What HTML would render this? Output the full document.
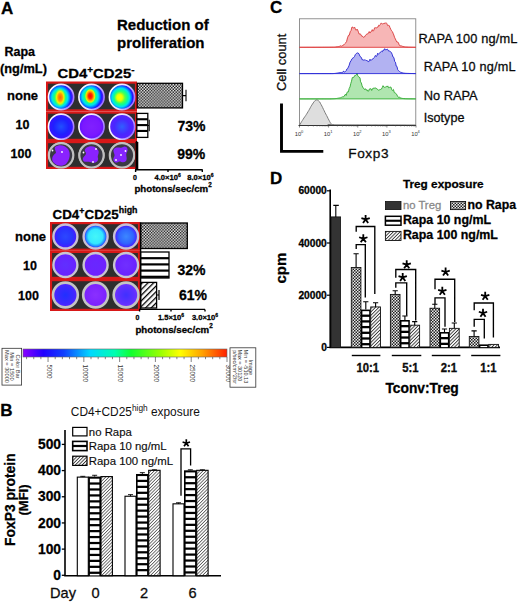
<!DOCTYPE html>
<html><head><meta charset="utf-8"><style>
html,body{margin:0;padding:0;background:#fff;}
svg{display:block;}
text{font-family:"Liberation Sans",sans-serif;stroke:#000;stroke-width:0.28px;}
text.g{stroke:#888;}
text.n{stroke:none;}
text.s{stroke-width:0.15px;}
</style></head><body>
<svg width="520" height="602" viewBox="0 0 520 602" font-family="Liberation Sans, sans-serif">
<rect width="520" height="602" fill="#fff"/>
<defs>
<pattern id="chk" width="2.9" height="2.9" patternUnits="userSpaceOnUse"><rect width="2.9" height="2.9" fill="#f4f4f4"/><rect width="1.45" height="1.45" fill="#111"/><rect x="1.45" y="1.45" width="1.45" height="1.45" fill="#111"/></pattern>
<pattern id="chkg" width="3" height="3" patternUnits="userSpaceOnUse"><rect width="3" height="3" fill="#eaeaea"/><rect width="1.5" height="1.5" fill="#222"/><rect x="1.5" y="1.5" width="1.5" height="1.5" fill="#222"/></pattern>
<pattern id="diag" width="2.4" height="2.4" patternUnits="userSpaceOnUse" patternTransform="rotate(45)"><rect width="2.4" height="2.4" fill="#fff"/><rect width="0.9" height="2.4" fill="#333"/></pattern>
<pattern id="diagA" width="4" height="4" patternUnits="userSpaceOnUse" patternTransform="rotate(45)"><rect width="4" height="4" fill="#fff"/><rect width="1.3" height="4" fill="#000"/></pattern>
<pattern id="diagB" width="2.3" height="2.3" patternUnits="userSpaceOnUse" patternTransform="rotate(45)"><rect width="2.3" height="2.3" fill="#fff"/><rect width="0.8" height="2.3" fill="#555"/></pattern>
<linearGradient id="cbar" x1="0" x2="1" y1="0" y2="0">
<stop offset="0" stop-color="#8a00ff"/><stop offset="0.1" stop-color="#2000ff"/><stop offset="0.2" stop-color="#1040ff"/>
<stop offset="0.33" stop-color="#00d8ff"/><stop offset="0.45" stop-color="#00ffb0"/><stop offset="0.53" stop-color="#10ff30"/>
<stop offset="0.68" stop-color="#a0ff00"/><stop offset="0.77" stop-color="#ffff00"/><stop offset="0.88" stop-color="#ffa000"/><stop offset="1" stop-color="#ff2000"/>
</linearGradient>

<radialGradient id="w_r1a" cx="0.45" cy="0.52" r="0.5" fx="0.45" fy="0.52" gradientTransform="translate(0.45,0.52) scale(1,1.12) translate(-0.45,-0.52)"><stop offset="0" stop-color="#a0ff20"/><stop offset="0.3" stop-color="#50ff40"/><stop offset="0.48" stop-color="#10ff90"/><stop offset="0.63" stop-color="#00e0f0"/><stop offset="0.77" stop-color="#0080ff"/><stop offset="0.88" stop-color="#1820ff"/><stop offset="1" stop-color="#4a18ff"/></radialGradient>
<radialGradient id="w_r1b" cx="0.45" cy="0.48" r="0.5" fx="0.45" fy="0.48" gradientTransform="translate(0.45,0.48) scale(1,1.1) translate(-0.45,-0.48)"><stop offset="0" stop-color="#a0ff20"/><stop offset="0.3" stop-color="#50ff40"/><stop offset="0.48" stop-color="#10ff90"/><stop offset="0.63" stop-color="#00e0f0"/><stop offset="0.77" stop-color="#0080ff"/><stop offset="0.88" stop-color="#1820ff"/><stop offset="1" stop-color="#4a18ff"/></radialGradient>
<radialGradient id="w_r1c" cx="0.45" cy="0.52" r="0.52" fx="0.45" fy="0.52" gradientTransform="translate(0.45,0.52) scale(1,1.05) translate(-0.45,-0.52)"><stop offset="0" stop-color="#c0ff10"/><stop offset="0.3" stop-color="#60ff40"/><stop offset="0.52" stop-color="#10ff90"/><stop offset="0.67" stop-color="#00e0f0"/><stop offset="0.8" stop-color="#0080ff"/><stop offset="0.9" stop-color="#1820ff"/><stop offset="1" stop-color="#4a18ff"/></radialGradient>
<radialGradient id="w_b2a" cx="0.5" cy="0.5" r="0.5"><stop offset="0" stop-color="#2050ff"/><stop offset="0.6" stop-color="#2020ff"/><stop offset="1" stop-color="#3a10ff"/></radialGradient>
<radialGradient id="w_b2b" cx="0.5" cy="0.5" r="0.5"><stop offset="0" stop-color="#8020ff"/><stop offset="0.7" stop-color="#7a18ff"/><stop offset="1" stop-color="#6010ff"/></radialGradient>
<radialGradient id="w_b2c" cx="0.5" cy="0.5" r="0.5"><stop offset="0" stop-color="#3060ff"/><stop offset="0.6" stop-color="#4828ff"/><stop offset="1" stop-color="#5a20ff"/></radialGradient>
<radialGradient id="w_c1a" cx="0.5" cy="0.5" r="0.5"><stop offset="0" stop-color="#2c48ff"/><stop offset="0.6" stop-color="#2a34ff"/><stop offset="0.85" stop-color="#4020ff"/><stop offset="1" stop-color="#6a28ff"/></radialGradient>
<radialGradient id="w_c1b" cx="0.5" cy="0.5" r="0.5"><stop offset="0" stop-color="#44f6f8"/><stop offset="0.6" stop-color="#34e8ff"/><stop offset="0.8" stop-color="#2090ff"/><stop offset="0.92" stop-color="#3030ff"/><stop offset="1" stop-color="#6a28ff"/></radialGradient>
<radialGradient id="w_c1c" cx="0.5" cy="0.5" r="0.5"><stop offset="0" stop-color="#3c88ff"/><stop offset="0.6" stop-color="#3064ff"/><stop offset="0.85" stop-color="#4030ff"/><stop offset="1" stop-color="#6a28ff"/></radialGradient>
<radialGradient id="w_c2a" cx="0.5" cy="0.5" r="0.5"><stop offset="0" stop-color="#6030ff"/><stop offset="1" stop-color="#6a20ff"/></radialGradient>
<radialGradient id="w_c2b" cx="0.5" cy="0.5" r="0.5"><stop offset="0" stop-color="#6828ff"/><stop offset="1" stop-color="#7020ff"/></radialGradient>
<radialGradient id="w_c2c" cx="0.5" cy="0.5" r="0.5"><stop offset="0" stop-color="#7030ff"/><stop offset="1" stop-color="#6a20ff"/></radialGradient>
<radialGradient id="w_c3a" cx="0.5" cy="0.5" r="0.5"><stop offset="0" stop-color="#2030ff"/><stop offset="0.7" stop-color="#4028ff"/><stop offset="1" stop-color="#5a20ff"/></radialGradient>
<radialGradient id="w_c3b" cx="0.5" cy="0.5" r="0.5"><stop offset="0" stop-color="#8a30ff"/><stop offset="1" stop-color="#7a20ff"/></radialGradient>
<radialGradient id="w_c3c" cx="0.5" cy="0.5" r="0.5"><stop offset="0" stop-color="#4030ff"/><stop offset="0.7" stop-color="#6030ff"/><stop offset="1" stop-color="#7a30ff"/></radialGradient>
<linearGradient id="ringA" x1="0" x2="1" y1="0.3" y2="0.7"><stop offset="0" stop-color="#ffffff"/><stop offset="0.5" stop-color="#e8e0ff"/><stop offset="1" stop-color="#9a70ff"/></linearGradient>
<radialGradient id="in1"><stop offset="0" stop-color="#ff6000"/><stop offset="0.4" stop-color="#ff9800"/><stop offset="0.65" stop-color="#f4f000"/><stop offset="1" stop-color="#b0ff20" stop-opacity="0"/></radialGradient>
<radialGradient id="in2"><stop offset="0" stop-color="#ff0000"/><stop offset="0.35" stop-color="#ff2800"/><stop offset="0.6" stop-color="#ffa000"/><stop offset="0.8" stop-color="#f0f000"/><stop offset="1" stop-color="#b0ff20" stop-opacity="0"/></radialGradient>
<radialGradient id="in3"><stop offset="0" stop-color="#ffff00"/><stop offset="0.5" stop-color="#e8ff00"/><stop offset="1" stop-color="#a0ff20" stop-opacity="0"/></radialGradient>
</defs>
<text x="0.9" y="13.8" font-size="17" font-weight="bold" text-anchor="start" fill="#000" >A</text>
<text x="117" y="30" font-size="15" font-weight="bold" text-anchor="start" fill="#000" >Reduction of</text>
<text x="117" y="48" font-size="15" font-weight="bold" text-anchor="start" fill="#000" >proliferation</text>
<text x="4.5" y="56.3" font-size="12.5" font-weight="bold" text-anchor="start" fill="#000" >Rapa</text>
<text x="0" y="73" font-size="12.8" font-weight="bold" text-anchor="start" fill="#000" >(ng/mL)</text>
<text x="57.5" y="78.3" font-size="13.6" font-weight="bold" textLength="77" lengthAdjust="spacingAndGlyphs">CD4<tspan font-size="9" dy="-5">+</tspan><tspan dy="5">CD25</tspan><tspan font-size="9" dy="-5">-</tspan></text>
<text x="7" y="99.7" font-size="13" font-weight="bold" text-anchor="start" fill="#000" >none</text>
<text x="15.6" y="129" font-size="12.5" font-weight="bold" text-anchor="start" fill="#000" >10</text>
<text x="10.5" y="158.2" font-size="12.5" font-weight="bold" text-anchor="start" fill="#000" >100</text>
<rect x="46" y="81.5" width="91" height="30.0" fill="#d81818"/>
<rect x="48.1" y="83.7" width="86.8" height="25.6" fill="#2e2e2e"/>
<circle cx="61.1" cy="97" r="12.6" fill="url(#w_r1a)" stroke="url(#ringA)" stroke-width="1.6"/>
<circle cx="91.5" cy="97" r="12.6" fill="url(#w_r1b)" stroke="url(#ringA)" stroke-width="1.6"/>
<circle cx="122" cy="97" r="12.6" fill="url(#w_r1c)" stroke="url(#ringA)" stroke-width="1.6"/>
<rect x="46" y="111.5" width="91" height="29.5" fill="#d81818"/>
<rect x="48.1" y="113.7" width="86.8" height="25.1" fill="#2e2e2e"/>
<circle cx="61.1" cy="126.7" r="12.6" fill="url(#w_b2a)" stroke="url(#ringA)" stroke-width="1.6"/>
<circle cx="91.5" cy="126.7" r="12.6" fill="url(#w_b2b)" stroke="url(#ringA)" stroke-width="1.6"/>
<circle cx="122" cy="126.7" r="12.6" fill="url(#w_b2c)" stroke="url(#ringA)" stroke-width="1.6"/>
<rect x="46" y="141" width="91" height="28" fill="#d81818"/>
<rect x="48.1" y="143.2" width="86.8" height="23.6" fill="#2e2e2e"/>
<circle cx="61.1" cy="155.3" r="12.2" fill="url(#w_b3a)" stroke="#b8b8b8" stroke-width="1.6"/>
<circle cx="91.5" cy="155.3" r="12.2" fill="url(#w_b3b)" stroke="#b8b8b8" stroke-width="1.6"/>
<circle cx="122" cy="155.3" r="12.2" fill="url(#w_b3c)" stroke="#b8b8b8" stroke-width="1.6"/>
<ellipse cx="60.2" cy="97.4" rx="5.5" ry="9" fill="url(#in1)"/>
<ellipse cx="90.3" cy="96" rx="5.5" ry="7.5" fill="url(#in2)"/>
<ellipse cx="119.6" cy="97.5" rx="5.5" ry="6" fill="url(#in3)"/>
<circle cx="61.1" cy="155.3" r="12.2" fill="#3a3a44" stroke="#c0c0c0" stroke-width="2.2"/>
<circle cx="91.5" cy="155.3" r="12.2" fill="#3a3a44" stroke="#c0c0c0" stroke-width="2.2"/>
<circle cx="122" cy="155.3" r="12.2" fill="#3a3a44" stroke="#c0c0c0" stroke-width="2.2"/>
<path d="M55,147 C59,144 65,145 68,149 C71,153 70,160 66,164 C62,167 56,166 53,162 C51,158 53,155 56,153 C56,151 54,149 55,147Z" fill="#8a22ff"/>
<path d="M86,148 C90,145 96,146 98,150 C100,153 97,155 98,158 C99,162 94,164 90,162 C87,161 84,163 83,160 C82,157 86,156 86,153 C85,151 84,150 86,148Z" fill="#8a22ff"/>
<path d="M114,149 C117,146 121,149 123,147 C126,145 129,149 127,152 C125,155 128,158 126,161 C123,164 120,160 118,162 C115,164 112,160 114,157 C116,154 112,152 114,149Z" fill="#8424ff"/>
<circle cx="52.5" cy="150.5" r="0.9" fill="#fff"/>
<circle cx="62" cy="152" r="0.9" fill="#fff"/>
<circle cx="83.5" cy="152.5" r="0.9" fill="#fff"/>
<circle cx="93" cy="162" r="0.9" fill="#fff"/>
<circle cx="96" cy="149" r="0.9" fill="#fff"/>
<circle cx="116" cy="160" r="0.9" fill="#fff"/>
<circle cx="125.5" cy="151" r="0.9" fill="#fff"/>
<circle cx="121" cy="155" r="0.9" fill="#fff"/>
<rect x="137.2" y="83.3" width="45.3" height="24.6" fill="url(#chk)" stroke="#000" stroke-width="1.3"/>
<path d="M182.5,95.6H186M186,89.8V101.3" stroke="#000" stroke-width="1.1" fill="none"/>
<rect x="136.8" y="113.4" width="11" height="24" fill="#fff" stroke="#000" stroke-width="1.3"/>
<rect x="136.8" y="118.20" width="11" height="2.1" fill="#000"/>
<rect x="136.8" y="124.05" width="11" height="2.1" fill="#000"/>
<rect x="136.8" y="129.90" width="11" height="2.1" fill="#000"/>
<path d="M147.8,125.5H149.2M149.2,119.8V131.3" stroke="#000" stroke-width="1.1" fill="none"/>
<rect x="135.5" y="142" width="2.8" height="27.5" fill="#000"/>
<path d="M136.6,141V170.2M135,169.8H202.7M168,169.8V172M202.3,169.8V172M135.6,169.8V172" stroke="#000" stroke-width="1.4" fill="none"/>
<text x="134.9" y="179.5" font-size="7" font-weight="bold" text-anchor="middle" fill="#000" >0</text>
<text x="167.6" y="179.5" font-size="7.6" font-weight="bold" text-anchor="middle" fill="#000" >4.0×10<tspan font-size="5" dy="-3">6</tspan></text>
<text x="200.3" y="179.5" font-size="7.6" font-weight="bold" text-anchor="middle" fill="#000" >8.0×10<tspan font-size="5" dy="-3">6</tspan></text>
<text x="134.4" y="192" font-size="9.7" font-weight="bold" text-anchor="start" fill="#000" >photons/sec/cm<tspan font-size="6.3" dy="-4.6">2</tspan></text>
<text x="177.4" y="131.4" font-size="14" font-weight="bold" text-anchor="start" fill="#000" >73%</text>
<text x="177.3" y="159.3" font-size="14" font-weight="bold" text-anchor="start" fill="#000" >99%</text>
<text x="52.5" y="218.5" font-size="13.6" font-weight="bold" textLength="85" lengthAdjust="spacingAndGlyphs">CD4<tspan font-size="9" dy="-5">+</tspan><tspan dy="5">CD25</tspan><tspan font-size="9" dy="-5.5">high</tspan></text>
<text x="15" y="240.5" font-size="13" font-weight="bold" text-anchor="start" fill="#000" >none</text>
<text x="23" y="270" font-size="12.5" font-weight="bold" text-anchor="start" fill="#000" >10</text>
<text x="18" y="299.5" font-size="12.5" font-weight="bold" text-anchor="start" fill="#000" >100</text>
<rect x="50" y="222" width="90" height="28.80000000000001" fill="#d81818"/>
<rect x="52.1" y="224.2" width="85.8" height="24.400000000000013" fill="#2e2e2e"/>
<circle cx="65.4" cy="236.5" r="12.0" fill="url(#w_c1a)" stroke="#c8c0d4" stroke-width="2.4"/>
<circle cx="95.6" cy="236.5" r="12.0" fill="url(#w_c1b)" stroke="#c8c0d4" stroke-width="2.4"/>
<circle cx="126.1" cy="236.5" r="12.0" fill="url(#w_c1c)" stroke="#c8c0d4" stroke-width="2.4"/>
<rect x="50" y="250.8" width="90" height="28.19999999999999" fill="#d81818"/>
<rect x="52.1" y="253.0" width="85.8" height="23.79999999999999" fill="#2e2e2e"/>
<circle cx="65.4" cy="265" r="12.0" fill="url(#w_c2a)" stroke="#c8c4d0" stroke-width="2.4"/>
<circle cx="95.6" cy="265" r="12.0" fill="url(#w_c2b)" stroke="#c8c4d0" stroke-width="2.4"/>
<circle cx="126.1" cy="265" r="12.0" fill="url(#w_c2c)" stroke="#c8c4d0" stroke-width="2.4"/>
<rect x="50" y="279" width="90" height="32" fill="#d81818"/>
<rect x="52.1" y="281.2" width="85.8" height="27.6" fill="#2e2e2e"/>
<circle cx="65.4" cy="295" r="12.4" fill="url(#w_c3a)" stroke="#c4c4c4" stroke-width="2.6"/>
<circle cx="95.6" cy="295" r="12.4" fill="url(#w_c3b)" stroke="#c4c4c4" stroke-width="2.6"/>
<circle cx="126.1" cy="295" r="12.4" fill="url(#w_c3c)" stroke="#c4c4c4" stroke-width="2.6"/>
<rect x="140.6" y="223" width="46.7" height="25.5" fill="url(#chk)" stroke="#000" stroke-width="1.3"/>
<rect x="140.6" y="252" width="28.4" height="26" fill="#fff" stroke="#000" stroke-width="1.3"/>
<rect x="140.6" y="257.10" width="28.4" height="2.2" fill="#000"/>
<rect x="140.6" y="263.30" width="28.4" height="2.2" fill="#000"/>
<rect x="140.6" y="269.50" width="28.4" height="2.2" fill="#000"/>
<rect x="140.6" y="275.70" width="28.4" height="2.2" fill="#000"/>
<rect x="140.6" y="282.4" width="16" height="25.6" fill="url(#diagA)" stroke="#000" stroke-width="1.3"/>
<path d="M156.6,295H159M159,290V300" stroke="#000" stroke-width="1.2" fill="none"/>
<path d="M140.6,222.5V309.8M139,309.4H205M171,309.4V311.6M205,309.4V311.6M139.6,309.4V311.6" stroke="#000" stroke-width="1.4" fill="none"/>
<text x="137.5" y="319.5" font-size="7" font-weight="bold" text-anchor="middle" fill="#000" >0</text>
<text x="171" y="319.5" font-size="7.6" font-weight="bold" text-anchor="middle" fill="#000" >1.5×10<tspan font-size="5" dy="-3">6</tspan></text>
<text x="205" y="319.5" font-size="7.6" font-weight="bold" text-anchor="middle" fill="#000" >3.0×10<tspan font-size="5" dy="-3">6</tspan></text>
<text x="135.4" y="333" font-size="9.7" font-weight="bold" text-anchor="start" fill="#000" >photons/sec/cm<tspan font-size="6.3" dy="-4.6">2</tspan></text>
<text x="177.5" y="275.3" font-size="14" font-weight="bold" text-anchor="start" fill="#000" >32%</text>
<text x="179" y="300.3" font-size="14" font-weight="bold" text-anchor="start" fill="#000" >61%</text>
<rect x="2" y="348.3" width="19.6" height="36.8" fill="#fff" stroke="#333" stroke-width="0.8"/>
<text class="n" transform="translate(15.8,366.5) rotate(90)" font-size="5.7" text-anchor="middle" fill="#333">Color Bar</text>
<text class="n" transform="translate(10.3,366.5) rotate(90)" font-size="5.7" text-anchor="middle" fill="#333">Min = 1500</text>
<text class="n" transform="translate(4.6,366.5) rotate(90)" font-size="5.7" text-anchor="middle" fill="#333">Max = 30000</text>
<rect x="23" y="349" width="204" height="8" fill="url(#cbar)" stroke="#666" stroke-width="0.6"/>
<path d="M26.58,357V359.2M33.74,357V359.2M40.89,357V359.2M48.05,357V362M55.21,357V359.2M62.37,357V359.2M69.53,357V359.2M76.68,357V359.2M83.84,357V362M91.00,357V359.2M98.16,357V359.2M105.32,357V359.2M112.47,357V359.2M119.63,357V362M126.79,357V359.2M133.95,357V359.2M141.11,357V359.2M148.26,357V359.2M155.42,357V362M162.58,357V359.2M169.74,357V359.2M176.89,357V359.2M184.05,357V359.2M191.21,357V362M198.37,357V359.2M205.53,357V359.2M212.68,357V359.2M219.84,357V359.2M227.00,357V362" stroke="#333" stroke-width="0.6"/>
<text class="n" transform="translate(46.75,364.5) rotate(90)" font-size="6.3" fill="#333">5000</text>
<text class="n" transform="translate(82.54,364.5) rotate(90)" font-size="6.3" fill="#333">10000</text>
<text class="n" transform="translate(118.33,364.5) rotate(90)" font-size="6.3" fill="#333">15000</text>
<text class="n" transform="translate(154.12,364.5) rotate(90)" font-size="6.3" fill="#333">20000</text>
<text class="n" transform="translate(189.91,364.5) rotate(90)" font-size="6.3" fill="#333">25000</text>
<text class="n" transform="translate(225.70,364.5) rotate(90)" font-size="6.3" fill="#333">30000</text>
<rect x="230" y="347.8" width="25.8" height="39.4" fill="#fff" stroke="#333" stroke-width="0.8"/>
<text class="n" transform="translate(249.1,367.3) rotate(90)" font-size="5.6" text-anchor="middle" fill="#333">Image</text>
<text class="n" transform="translate(243.7,349.4) rotate(90)" font-size="5.5" fill="#333">Min = -510.13</text>
<text class="n" transform="translate(238.3,349.4) rotate(90)" font-size="5.5" fill="#333">Max = 30120</text>
<text class="n" transform="translate(232.5,350.2) rotate(90)" font-size="5.5" fill="#333">p/sec/cm^2/sr</text>
<text x="0.2" y="415.9" font-size="17" font-weight="bold" text-anchor="start" fill="#000" >B</text>
<text class="n" x="70.8" y="415.9" font-size="11.9" fill="#111">CD4+CD25<tspan font-size="8.3" dy="-4.5">high</tspan><tspan dy="4.5"> exposure</tspan></text>
<rect x="72.7" y="427.4" width="14.3" height="8.5" fill="#fff" stroke="#000" stroke-width="1.2"/>
<rect x="72.7" y="441.4" width="14.3" height="9.2" fill="#fff" stroke="#000" stroke-width="1.6"/><rect x="72.7" y="444.9" width="14.3" height="2.2" fill="#000"/>
<rect x="72.7" y="456.2" width="14.3" height="9.2" fill="url(#diag)" stroke="#000" stroke-width="1.2"/>
<text x="88.8" y="435.5" font-size="11.4" text-anchor="start" fill="#111" class="s">no Rapa</text>
<text x="88.8" y="450.2" font-size="11.4" text-anchor="start" fill="#111" class="s">Rapa 10 ng/mL</text>
<text x="88.8" y="464.6" font-size="11.4" text-anchor="start" fill="#111" class="s">Rapa 100 ng/mL</text>
<path d="M65,430V576.5M64.5,575.7H221" stroke="#000" stroke-width="1.6" fill="none"/>
<path d="M61.8,575.30H65" stroke="#000" stroke-width="1.3"/>
<text x="61" y="580.0" font-size="13.8" font-weight="bold" text-anchor="end" fill="#000" >0</text>
<path d="M61.8,549.12H65" stroke="#000" stroke-width="1.3"/>
<text x="61" y="553.82" font-size="13.8" font-weight="bold" text-anchor="end" fill="#000" >100</text>
<path d="M61.8,522.94H65" stroke="#000" stroke-width="1.3"/>
<text x="61" y="527.64" font-size="13.8" font-weight="bold" text-anchor="end" fill="#000" >200</text>
<path d="M61.8,496.76H65" stroke="#000" stroke-width="1.3"/>
<text x="61" y="501.46" font-size="13.8" font-weight="bold" text-anchor="end" fill="#000" >300</text>
<path d="M61.8,470.58H65" stroke="#000" stroke-width="1.3"/>
<text x="61" y="475.28" font-size="13.8" font-weight="bold" text-anchor="end" fill="#000" >400</text>
<path d="M61.8,444.40H65" stroke="#000" stroke-width="1.3"/>
<text x="61" y="449.09999999999997" font-size="13.8" font-weight="bold" text-anchor="end" fill="#000" >500</text>
<text transform="translate(14.5,546) rotate(-90)" font-size="13.9" font-weight="bold">FoxP3 protein</text>
<text transform="translate(28.4,515.5) rotate(-90)" font-size="13" font-weight="bold">(MFI)</text>
<rect x="77.30" y="477.12" width="11" height="98.58" fill="#fff" stroke="#000" stroke-width="1.1"/>
<path d="M82.80,477.12V476.34M80.30,476.34H85.30" stroke="#000" stroke-width="0.9"/>
<rect x="88.30" y="476.60" width="12.7" height="99.10" fill="#000"/>
<rect x="89.90" y="478.70" width="9.50" height="3.70" fill="#fff"/>
<rect x="89.90" y="484.65" width="9.50" height="3.70" fill="#fff"/>
<rect x="89.90" y="490.60" width="9.50" height="3.70" fill="#fff"/>
<rect x="89.90" y="496.55" width="9.50" height="3.70" fill="#fff"/>
<rect x="89.90" y="502.50" width="9.50" height="3.70" fill="#fff"/>
<rect x="89.90" y="508.45" width="9.50" height="3.70" fill="#fff"/>
<rect x="89.90" y="514.40" width="9.50" height="3.70" fill="#fff"/>
<rect x="89.90" y="520.35" width="9.50" height="3.70" fill="#fff"/>
<rect x="89.90" y="526.30" width="9.50" height="3.70" fill="#fff"/>
<rect x="89.90" y="532.25" width="9.50" height="3.70" fill="#fff"/>
<rect x="89.90" y="538.20" width="9.50" height="3.70" fill="#fff"/>
<rect x="89.90" y="544.15" width="9.50" height="3.70" fill="#fff"/>
<rect x="89.90" y="550.10" width="9.50" height="3.70" fill="#fff"/>
<rect x="89.90" y="556.05" width="9.50" height="3.70" fill="#fff"/>
<rect x="89.90" y="562.00" width="9.50" height="3.70" fill="#fff"/>
<rect x="89.90" y="567.95" width="9.50" height="3.70" fill="#fff"/>
<rect x="89.90" y="573.90" width="9.50" height="1.50" fill="#fff"/>
<path d="M94.65,476.60V475.29M92.15,475.29H97.15" stroke="#000" stroke-width="0.9"/>
<rect x="101.00" y="476.60" width="11.4" height="99.10" fill="url(#diagB)" stroke="#000" stroke-width="1.1"/>
<rect x="125.00" y="496.24" width="11" height="79.46" fill="#fff" stroke="#000" stroke-width="1.1"/>
<path d="M130.50,496.24V494.67M128.00,494.67H133.00" stroke="#000" stroke-width="0.9"/>
<rect x="136.00" y="473.98" width="12.7" height="101.72" fill="#000"/>
<rect x="137.60" y="476.08" width="9.50" height="3.70" fill="#fff"/>
<rect x="137.60" y="482.03" width="9.50" height="3.70" fill="#fff"/>
<rect x="137.60" y="487.98" width="9.50" height="3.70" fill="#fff"/>
<rect x="137.60" y="493.93" width="9.50" height="3.70" fill="#fff"/>
<rect x="137.60" y="499.88" width="9.50" height="3.70" fill="#fff"/>
<rect x="137.60" y="505.83" width="9.50" height="3.70" fill="#fff"/>
<rect x="137.60" y="511.78" width="9.50" height="3.70" fill="#fff"/>
<rect x="137.60" y="517.73" width="9.50" height="3.70" fill="#fff"/>
<rect x="137.60" y="523.68" width="9.50" height="3.70" fill="#fff"/>
<rect x="137.60" y="529.63" width="9.50" height="3.70" fill="#fff"/>
<rect x="137.60" y="535.58" width="9.50" height="3.70" fill="#fff"/>
<rect x="137.60" y="541.53" width="9.50" height="3.70" fill="#fff"/>
<rect x="137.60" y="547.48" width="9.50" height="3.70" fill="#fff"/>
<rect x="137.60" y="553.43" width="9.50" height="3.70" fill="#fff"/>
<rect x="137.60" y="559.38" width="9.50" height="3.70" fill="#fff"/>
<rect x="137.60" y="565.33" width="9.50" height="3.70" fill="#fff"/>
<rect x="137.60" y="571.28" width="9.50" height="3.70" fill="#fff"/>
<path d="M142.35,473.98V472.67M139.85,472.67H144.85" stroke="#000" stroke-width="0.9"/>
<rect x="148.70" y="470.32" width="11.4" height="105.38" fill="url(#diagB)" stroke="#000" stroke-width="1.1"/>
<path d="M154.40,470.32V469.79M151.90,469.79H156.90" stroke="#000" stroke-width="0.9"/>
<rect x="173.00" y="503.83" width="11" height="71.87" fill="#fff" stroke="#000" stroke-width="1.1"/>
<path d="M178.50,503.83V502.78M176.00,502.78H181.00" stroke="#000" stroke-width="0.9"/>
<rect x="184.00" y="470.32" width="12.7" height="105.38" fill="#000"/>
<rect x="185.60" y="472.42" width="9.50" height="3.70" fill="#fff"/>
<rect x="185.60" y="478.37" width="9.50" height="3.70" fill="#fff"/>
<rect x="185.60" y="484.32" width="9.50" height="3.70" fill="#fff"/>
<rect x="185.60" y="490.27" width="9.50" height="3.70" fill="#fff"/>
<rect x="185.60" y="496.22" width="9.50" height="3.70" fill="#fff"/>
<rect x="185.60" y="502.17" width="9.50" height="3.70" fill="#fff"/>
<rect x="185.60" y="508.12" width="9.50" height="3.70" fill="#fff"/>
<rect x="185.60" y="514.07" width="9.50" height="3.70" fill="#fff"/>
<rect x="185.60" y="520.02" width="9.50" height="3.70" fill="#fff"/>
<rect x="185.60" y="525.97" width="9.50" height="3.70" fill="#fff"/>
<rect x="185.60" y="531.92" width="9.50" height="3.70" fill="#fff"/>
<rect x="185.60" y="537.87" width="9.50" height="3.70" fill="#fff"/>
<rect x="185.60" y="543.82" width="9.50" height="3.70" fill="#fff"/>
<rect x="185.60" y="549.77" width="9.50" height="3.70" fill="#fff"/>
<rect x="185.60" y="555.72" width="9.50" height="3.70" fill="#fff"/>
<rect x="185.60" y="561.67" width="9.50" height="3.70" fill="#fff"/>
<rect x="185.60" y="567.62" width="9.50" height="3.70" fill="#fff"/>
<rect x="185.60" y="573.57" width="9.50" height="1.83" fill="#fff"/>
<path d="M190.35,470.32V469.79M187.85,469.79H192.85" stroke="#000" stroke-width="0.9"/>
<rect x="196.70" y="470.32" width="11.4" height="105.38" fill="url(#diagB)" stroke="#000" stroke-width="1.1"/>
<path d="M202.40,470.32V469.79M199.90,469.79H204.90" stroke="#000" stroke-width="0.9"/>
<path d="M181,495.8V448.8H190.6V465.6" stroke="#000" stroke-width="1.3" fill="none"/>
<path d="M186.30,443.20L186.30,439.30M186.30,443.20L190.01,441.99M186.30,443.20L188.59,446.36M186.30,443.20L184.01,446.36M186.30,443.20L182.59,441.99" stroke="#000" stroke-width="1.7" stroke-linecap="butt" fill="none"/>
<text x="50" y="597.9" font-size="14.6" text-anchor="start" fill="#111" >Day</text>
<text x="95.5" y="597.9" font-size="14.6" text-anchor="middle" fill="#111" >0</text>
<text x="144" y="597.9" font-size="14.6" text-anchor="middle" fill="#111" >2</text>
<text x="192.5" y="597.9" font-size="14.6" text-anchor="middle" fill="#111" >6</text>
<text x="269.9" y="13.4" font-size="17" font-weight="bold" text-anchor="start" fill="#000" >C</text>
<rect x="299.5" y="18.8" width="116.3" height="106.7" fill="#fff" stroke="#777" stroke-width="0.8"/>
<path d="M299.50,47.30 L299.88,47.30 L300.30,47.30 L300.76,47.30 L301.27,47.30 L301.81,47.29 L302.39,47.29 L303.00,47.29 L303.64,47.29 L304.31,47.29 L305.01,47.29 L305.74,47.29 L306.49,47.28 L307.26,47.28 L308.05,47.28 L308.85,47.28 L309.68,47.28 L310.51,47.28 L311.36,47.28 L312.21,47.27 L313.07,47.27 L313.94,47.27 L314.81,47.27 L315.68,47.27 L316.55,47.26 L317.41,47.26 L318.27,47.26 L319.12,47.26 L319.96,47.25 L320.79,47.25 L321.61,47.25 L322.41,47.25 L323.19,47.24 L323.95,47.24 L324.69,47.24 L325.41,47.23 L326.09,47.23 L326.75,47.23 L327.38,47.22 L327.98,47.22 L328.54,47.21 L329.07,47.21 L329.55,47.20 L330.00,47.20 L331.94,47.17 L333.27,47.15 L334.13,47.12 L334.66,47.09 L334.97,47.05 L335.21,47.01 L335.51,46.96 L336.00,46.90 L336.93,46.80 L337.75,46.68 L338.51,46.54 L339.24,46.38 L340.00,46.20 L340.79,45.72 L341.59,46.18 L342.37,45.92 L343.11,45.02 L343.80,44.89 L344.81,43.70 L345.69,42.83 L346.50,41.75 L347.51,37.86 L348.50,35.27 L349.31,35.21 L350.19,31.77 L351.00,30.68 L352.00,26.99 L353.00,27.36 L353.83,28.12 L354.72,27.27 L355.50,29.66 L356.22,30.27 L357.00,29.08 L357.64,29.86 L358.41,32.14 L359.21,34.17 L360.00,33.69 L360.75,34.33 L361.50,36.02 L362.25,35.97 L363.00,36.98 L363.76,37.40 L364.53,36.95 L365.29,35.49 L366.00,34.80 L366.85,34.07 L367.65,34.01 L368.50,32.85 L369.21,31.57 L369.96,33.08 L370.73,31.74 L371.50,31.37 L372.26,29.63 L373.02,31.21 L373.80,30.32 L374.60,27.81 L375.41,27.71 L376.23,28.03 L377.08,27.28 L378.00,27.13 L378.68,25.26 L379.43,25.71 L380.19,24.68 L380.95,23.16 L381.67,23.43 L382.30,23.89 L383.32,23.70 L384.16,23.12 L385.00,23.73 L385.91,22.65 L386.83,23.65 L387.70,25.67 L388.50,25.39 L389.25,25.61 L390.00,27.63 L390.77,29.32 L391.54,30.73 L392.30,31.47 L393.06,33.19 L393.81,34.96 L394.50,37.22 L395.34,38.91 L396.20,40.72 L396.92,42.13 L397.71,41.93 L398.50,43.02 L399.23,45.03 L399.97,45.88 L400.80,45.80 L401.52,45.92 L402.29,46.28 L403.12,46.51 L404.00,46.70 L404.69,46.82 L405.36,46.91 L406.09,46.98 L406.94,47.04 L408.00,47.10 L408.60,47.13 L409.29,47.15 L410.06,47.17 L410.88,47.20 L411.73,47.22 L412.57,47.23 L413.38,47.25 L414.13,47.27 L414.81,47.28 L415.37,47.29 L415.80,47.30 L415.8,47.3 L299.5,47.3Z" fill="#f7b6b6" stroke="none"/>
<path d="M299.50,47.30 L299.88,47.30 L300.30,47.30 L300.76,47.30 L301.27,47.30 L301.81,47.29 L302.39,47.29 L303.00,47.29 L303.64,47.29 L304.31,47.29 L305.01,47.29 L305.74,47.29 L306.49,47.28 L307.26,47.28 L308.05,47.28 L308.85,47.28 L309.68,47.28 L310.51,47.28 L311.36,47.28 L312.21,47.27 L313.07,47.27 L313.94,47.27 L314.81,47.27 L315.68,47.27 L316.55,47.26 L317.41,47.26 L318.27,47.26 L319.12,47.26 L319.96,47.25 L320.79,47.25 L321.61,47.25 L322.41,47.25 L323.19,47.24 L323.95,47.24 L324.69,47.24 L325.41,47.23 L326.09,47.23 L326.75,47.23 L327.38,47.22 L327.98,47.22 L328.54,47.21 L329.07,47.21 L329.55,47.20 L330.00,47.20 L331.94,47.17 L333.27,47.15 L334.13,47.12 L334.66,47.09 L334.97,47.05 L335.21,47.01 L335.51,46.96 L336.00,46.90 L336.93,46.80 L337.75,46.68 L338.51,46.54 L339.24,46.38 L340.00,46.20 L340.79,45.72 L341.59,46.18 L342.37,45.92 L343.11,45.02 L343.80,44.89 L344.81,43.70 L345.69,42.83 L346.50,41.75 L347.51,37.86 L348.50,35.27 L349.31,35.21 L350.19,31.77 L351.00,30.68 L352.00,26.99 L353.00,27.36 L353.83,28.12 L354.72,27.27 L355.50,29.66 L356.22,30.27 L357.00,29.08 L357.64,29.86 L358.41,32.14 L359.21,34.17 L360.00,33.69 L360.75,34.33 L361.50,36.02 L362.25,35.97 L363.00,36.98 L363.76,37.40 L364.53,36.95 L365.29,35.49 L366.00,34.80 L366.85,34.07 L367.65,34.01 L368.50,32.85 L369.21,31.57 L369.96,33.08 L370.73,31.74 L371.50,31.37 L372.26,29.63 L373.02,31.21 L373.80,30.32 L374.60,27.81 L375.41,27.71 L376.23,28.03 L377.08,27.28 L378.00,27.13 L378.68,25.26 L379.43,25.71 L380.19,24.68 L380.95,23.16 L381.67,23.43 L382.30,23.89 L383.32,23.70 L384.16,23.12 L385.00,23.73 L385.91,22.65 L386.83,23.65 L387.70,25.67 L388.50,25.39 L389.25,25.61 L390.00,27.63 L390.77,29.32 L391.54,30.73 L392.30,31.47 L393.06,33.19 L393.81,34.96 L394.50,37.22 L395.34,38.91 L396.20,40.72 L396.92,42.13 L397.71,41.93 L398.50,43.02 L399.23,45.03 L399.97,45.88 L400.80,45.80 L401.52,45.92 L402.29,46.28 L403.12,46.51 L404.00,46.70 L404.69,46.82 L405.36,46.91 L406.09,46.98 L406.94,47.04 L408.00,47.10 L408.60,47.13 L409.29,47.15 L410.06,47.17 L410.88,47.20 L411.73,47.22 L412.57,47.23 L413.38,47.25 L414.13,47.27 L414.81,47.28 L415.37,47.29 L415.80,47.30" fill="none" stroke="#d83838" stroke-width="0.9"/>
<path d="M299.50,73.60 L299.88,73.60 L300.30,73.60 L300.76,73.60 L301.25,73.60 L301.79,73.60 L302.36,73.60 L302.96,73.60 L303.59,73.60 L304.26,73.60 L304.95,73.60 L305.66,73.60 L306.40,73.60 L307.16,73.60 L307.93,73.60 L308.73,73.60 L309.54,73.60 L310.36,73.60 L311.19,73.60 L312.04,73.60 L312.89,73.60 L313.75,73.60 L314.61,73.60 L315.47,73.60 L316.33,73.60 L317.19,73.60 L318.04,73.60 L318.89,73.60 L319.73,73.60 L320.56,73.60 L321.37,73.60 L322.18,73.60 L322.96,73.60 L323.73,73.60 L324.48,73.60 L325.21,73.60 L325.91,73.60 L326.59,73.60 L327.24,73.60 L327.86,73.60 L328.45,73.60 L329.00,73.60 L329.52,73.60 L330.00,73.60 L331.42,73.60 L332.64,73.60 L333.69,73.54 L334.58,73.46 L335.34,73.38 L335.98,73.29 L336.54,73.20 L337.02,73.11 L337.47,73.02 L337.88,72.93 L338.30,72.85 L338.73,72.77 L339.20,72.70 L340.33,72.54 L341.18,72.40 L341.84,72.67 L342.42,72.57 L343.00,71.54 L343.91,71.33 L344.67,72.04 L345.40,71.57 L346.14,70.82 L346.84,69.03 L347.50,68.78 L348.37,67.11 L349.20,65.21 L350.08,62.12 L351.00,60.82 L351.97,58.80 L353.00,57.88 L353.75,57.52 L354.54,56.44 L355.30,54.61 L356.33,53.49 L357.40,52.90 L358.21,53.00 L359.09,54.12 L360.00,56.41 L360.72,56.81 L361.46,57.77 L362.23,59.86 L363.00,59.57 L363.75,60.25 L364.50,59.95 L365.30,59.80 L366.20,60.75 L366.89,60.21 L367.63,61.02 L368.41,62.04 L369.21,60.87 L370.02,59.20 L370.80,60.62 L371.56,59.87 L372.30,59.11 L373.05,58.90 L373.81,57.84 L374.59,57.22 L375.40,55.42 L376.14,56.49 L376.91,55.87 L377.70,53.21 L378.50,54.18 L379.29,53.52 L380.06,52.32 L380.80,51.98 L381.62,51.26 L382.42,51.74 L383.20,50.01 L383.96,50.32 L384.69,48.66 L385.40,49.80 L386.24,49.84 L387.06,48.95 L387.85,49.64 L388.57,51.03 L389.20,50.98 L390.32,51.55 L391.20,52.28 L392.12,54.21 L393.00,57.02 L393.87,57.57 L394.70,61.56 L395.46,62.18 L396.20,66.07 L396.95,66.37 L397.70,69.69 L398.37,70.47 L399.20,71.21 L399.79,71.68 L400.48,72.18 L401.23,72.40 L402.00,72.60 L402.64,72.83 L403.23,73.02 L404.04,73.17 L405.40,73.30 L405.95,73.33 L406.61,73.37 L407.35,73.40 L408.16,73.42 L409.02,73.45 L409.91,73.47 L410.81,73.49 L411.70,73.51 L412.57,73.53 L413.38,73.55 L414.13,73.56 L414.80,73.58 L415.36,73.59 L415.80,73.60 L415.8,73.6 L299.5,73.6Z" fill="#b2b2f2" stroke="none"/>
<path d="M299.50,73.60 L299.88,73.60 L300.30,73.60 L300.76,73.60 L301.25,73.60 L301.79,73.60 L302.36,73.60 L302.96,73.60 L303.59,73.60 L304.26,73.60 L304.95,73.60 L305.66,73.60 L306.40,73.60 L307.16,73.60 L307.93,73.60 L308.73,73.60 L309.54,73.60 L310.36,73.60 L311.19,73.60 L312.04,73.60 L312.89,73.60 L313.75,73.60 L314.61,73.60 L315.47,73.60 L316.33,73.60 L317.19,73.60 L318.04,73.60 L318.89,73.60 L319.73,73.60 L320.56,73.60 L321.37,73.60 L322.18,73.60 L322.96,73.60 L323.73,73.60 L324.48,73.60 L325.21,73.60 L325.91,73.60 L326.59,73.60 L327.24,73.60 L327.86,73.60 L328.45,73.60 L329.00,73.60 L329.52,73.60 L330.00,73.60 L331.42,73.60 L332.64,73.60 L333.69,73.54 L334.58,73.46 L335.34,73.38 L335.98,73.29 L336.54,73.20 L337.02,73.11 L337.47,73.02 L337.88,72.93 L338.30,72.85 L338.73,72.77 L339.20,72.70 L340.33,72.54 L341.18,72.40 L341.84,72.67 L342.42,72.57 L343.00,71.54 L343.91,71.33 L344.67,72.04 L345.40,71.57 L346.14,70.82 L346.84,69.03 L347.50,68.78 L348.37,67.11 L349.20,65.21 L350.08,62.12 L351.00,60.82 L351.97,58.80 L353.00,57.88 L353.75,57.52 L354.54,56.44 L355.30,54.61 L356.33,53.49 L357.40,52.90 L358.21,53.00 L359.09,54.12 L360.00,56.41 L360.72,56.81 L361.46,57.77 L362.23,59.86 L363.00,59.57 L363.75,60.25 L364.50,59.95 L365.30,59.80 L366.20,60.75 L366.89,60.21 L367.63,61.02 L368.41,62.04 L369.21,60.87 L370.02,59.20 L370.80,60.62 L371.56,59.87 L372.30,59.11 L373.05,58.90 L373.81,57.84 L374.59,57.22 L375.40,55.42 L376.14,56.49 L376.91,55.87 L377.70,53.21 L378.50,54.18 L379.29,53.52 L380.06,52.32 L380.80,51.98 L381.62,51.26 L382.42,51.74 L383.20,50.01 L383.96,50.32 L384.69,48.66 L385.40,49.80 L386.24,49.84 L387.06,48.95 L387.85,49.64 L388.57,51.03 L389.20,50.98 L390.32,51.55 L391.20,52.28 L392.12,54.21 L393.00,57.02 L393.87,57.57 L394.70,61.56 L395.46,62.18 L396.20,66.07 L396.95,66.37 L397.70,69.69 L398.37,70.47 L399.20,71.21 L399.79,71.68 L400.48,72.18 L401.23,72.40 L402.00,72.60 L402.64,72.83 L403.23,73.02 L404.04,73.17 L405.40,73.30 L405.95,73.33 L406.61,73.37 L407.35,73.40 L408.16,73.42 L409.02,73.45 L409.91,73.47 L410.81,73.49 L411.70,73.51 L412.57,73.53 L413.38,73.55 L414.13,73.56 L414.80,73.58 L415.36,73.59 L415.80,73.60" fill="none" stroke="#2424d0" stroke-width="0.9"/>
<path d="M299.50,98.90 L299.88,98.90 L300.30,98.90 L300.76,98.90 L301.25,98.90 L301.79,98.90 L302.36,98.90 L302.96,98.90 L303.59,98.90 L304.26,98.90 L304.95,98.90 L305.66,98.90 L306.40,98.90 L307.16,98.90 L307.93,98.90 L308.73,98.90 L309.54,98.90 L310.36,98.90 L311.19,98.90 L312.04,98.90 L312.89,98.90 L313.75,98.90 L314.61,98.90 L315.47,98.90 L316.33,98.90 L317.19,98.90 L318.04,98.90 L318.89,98.90 L319.73,98.90 L320.56,98.90 L321.37,98.90 L322.18,98.90 L322.96,98.90 L323.73,98.90 L324.48,98.90 L325.21,98.90 L325.91,98.90 L326.59,98.90 L327.24,98.90 L327.86,98.90 L328.45,98.90 L329.00,98.90 L329.52,98.90 L330.00,98.90 L331.42,98.86 L332.65,98.81 L333.70,98.76 L334.59,98.69 L335.36,98.62 L336.01,98.55 L336.57,98.47 L337.06,98.39 L337.50,98.31 L337.92,98.23 L338.32,98.15 L338.74,98.07 L339.20,98.00 L340.45,97.77 L341.24,97.31 L341.84,97.34 L342.50,96.84 L343.27,96.82 L344.03,96.53 L344.74,95.06 L345.40,94.29 L346.17,95.45 L346.86,92.97 L347.50,91.81 L348.38,91.92 L349.20,88.42 L350.01,86.94 L350.80,83.44 L351.50,81.24 L352.30,77.59 L353.04,77.64 L353.87,77.25 L354.70,75.56 L355.50,75.47 L356.30,74.83 L357.00,73.17 L357.80,75.83 L358.50,76.74 L359.16,76.99 L360.00,77.98 L360.60,81.83 L361.30,82.95 L362.10,85.75 L363.00,87.88 L363.70,88.28 L364.49,89.50 L365.33,88.69 L366.17,90.19 L366.98,89.60 L367.70,91.13 L368.62,91.13 L369.42,88.98 L370.19,88.82 L371.00,88.76 L371.68,90.46 L372.37,88.76 L373.07,88.92 L373.81,87.81 L374.60,88.22 L375.31,87.98 L376.06,88.12 L376.84,89.03 L377.63,89.30 L378.42,90.29 L379.20,89.67 L379.97,90.00 L380.73,89.29 L381.49,89.00 L382.26,87.52 L383.03,85.66 L383.80,87.14 L384.59,87.29 L385.39,87.15 L386.20,86.40 L387.00,86.97 L387.77,85.90 L388.50,87.76 L389.35,87.44 L390.17,87.13 L390.95,87.05 L391.67,89.62 L392.30,90.47 L393.42,89.40 L394.30,92.58 L395.23,92.99 L396.20,93.69 L396.94,94.95 L397.72,96.64 L398.50,97.31 L399.20,96.82 L399.89,97.77 L400.80,98.00 L401.41,98.18 L402.03,98.34 L402.75,98.48 L403.71,98.60 L405.00,98.70 L405.55,98.73 L406.19,98.75 L406.91,98.78 L407.69,98.79 L408.51,98.81 L409.36,98.83 L410.23,98.84 L411.09,98.85 L411.94,98.86 L412.76,98.87 L413.52,98.87 L414.23,98.88 L414.85,98.89 L415.38,98.89 L415.80,98.90 L415.8,98.9 L299.5,98.9Z" fill="#b0e6b0" stroke="none"/>
<path d="M299.50,98.90 L299.88,98.90 L300.30,98.90 L300.76,98.90 L301.25,98.90 L301.79,98.90 L302.36,98.90 L302.96,98.90 L303.59,98.90 L304.26,98.90 L304.95,98.90 L305.66,98.90 L306.40,98.90 L307.16,98.90 L307.93,98.90 L308.73,98.90 L309.54,98.90 L310.36,98.90 L311.19,98.90 L312.04,98.90 L312.89,98.90 L313.75,98.90 L314.61,98.90 L315.47,98.90 L316.33,98.90 L317.19,98.90 L318.04,98.90 L318.89,98.90 L319.73,98.90 L320.56,98.90 L321.37,98.90 L322.18,98.90 L322.96,98.90 L323.73,98.90 L324.48,98.90 L325.21,98.90 L325.91,98.90 L326.59,98.90 L327.24,98.90 L327.86,98.90 L328.45,98.90 L329.00,98.90 L329.52,98.90 L330.00,98.90 L331.42,98.86 L332.65,98.81 L333.70,98.76 L334.59,98.69 L335.36,98.62 L336.01,98.55 L336.57,98.47 L337.06,98.39 L337.50,98.31 L337.92,98.23 L338.32,98.15 L338.74,98.07 L339.20,98.00 L340.45,97.77 L341.24,97.31 L341.84,97.34 L342.50,96.84 L343.27,96.82 L344.03,96.53 L344.74,95.06 L345.40,94.29 L346.17,95.45 L346.86,92.97 L347.50,91.81 L348.38,91.92 L349.20,88.42 L350.01,86.94 L350.80,83.44 L351.50,81.24 L352.30,77.59 L353.04,77.64 L353.87,77.25 L354.70,75.56 L355.50,75.47 L356.30,74.83 L357.00,73.17 L357.80,75.83 L358.50,76.74 L359.16,76.99 L360.00,77.98 L360.60,81.83 L361.30,82.95 L362.10,85.75 L363.00,87.88 L363.70,88.28 L364.49,89.50 L365.33,88.69 L366.17,90.19 L366.98,89.60 L367.70,91.13 L368.62,91.13 L369.42,88.98 L370.19,88.82 L371.00,88.76 L371.68,90.46 L372.37,88.76 L373.07,88.92 L373.81,87.81 L374.60,88.22 L375.31,87.98 L376.06,88.12 L376.84,89.03 L377.63,89.30 L378.42,90.29 L379.20,89.67 L379.97,90.00 L380.73,89.29 L381.49,89.00 L382.26,87.52 L383.03,85.66 L383.80,87.14 L384.59,87.29 L385.39,87.15 L386.20,86.40 L387.00,86.97 L387.77,85.90 L388.50,87.76 L389.35,87.44 L390.17,87.13 L390.95,87.05 L391.67,89.62 L392.30,90.47 L393.42,89.40 L394.30,92.58 L395.23,92.99 L396.20,93.69 L396.94,94.95 L397.72,96.64 L398.50,97.31 L399.20,96.82 L399.89,97.77 L400.80,98.00 L401.41,98.18 L402.03,98.34 L402.75,98.48 L403.71,98.60 L405.00,98.70 L405.55,98.73 L406.19,98.75 L406.91,98.78 L407.69,98.79 L408.51,98.81 L409.36,98.83 L410.23,98.84 L411.09,98.85 L411.94,98.86 L412.76,98.87 L413.52,98.87 L414.23,98.88 L414.85,98.89 L415.38,98.89 L415.80,98.90" fill="none" stroke="#30a830" stroke-width="0.9"/>
<path d="M299.50,124.90 L299.56,124.90 L299.80,124.90 L300.15,124.20 L301.30,122.15 L301.82,121.28 L302.44,120.38 L303.16,119.21 L303.93,117.99 L304.75,116.83 L305.59,115.69 L306.42,114.36 L307.24,113.09 L308.00,111.72 L308.74,110.58 L309.50,109.19 L310.26,107.79 L311.01,106.40 L311.76,105.11 L312.49,104.08 L313.19,102.95 L313.87,102.01 L314.50,101.29 L315.35,100.36 L316.09,99.94 L316.78,99.88 L317.46,100.05 L318.19,100.54 L319.00,101.31 L319.68,101.94 L320.39,103.24 L321.14,104.63 L321.91,106.10 L322.68,107.61 L323.46,109.33 L324.24,110.80 L325.00,112.53 L325.77,113.98 L326.57,115.45 L327.38,116.99 L328.19,118.76 L328.97,120.17 L329.71,121.61 L330.39,122.75 L331.00,123.60 L330.11,124.58 L327.76,124.78 L327.78,124.64 L334.00,124.60 L334.37,124.61 L334.77,124.61 L335.18,124.62 L335.60,124.62 L336.04,124.63 L336.50,124.63 L336.98,124.64 L337.47,124.64 L337.97,124.65 L338.49,124.65 L339.03,124.66 L339.58,124.66 L340.14,124.67 L340.72,124.67 L341.31,124.68 L341.91,124.68 L342.53,124.68 L343.16,124.69 L343.80,124.69 L344.46,124.70 L345.12,124.70 L345.80,124.70 L346.49,124.71 L347.19,124.71 L347.89,124.72 L348.61,124.72 L349.34,124.72 L350.08,124.73 L350.83,124.73 L351.58,124.73 L352.35,124.74 L353.12,124.74 L353.90,124.75 L354.69,124.75 L355.48,124.75 L356.29,124.75 L357.10,124.76 L357.91,124.76 L358.73,124.76 L359.56,124.77 L360.39,124.77 L361.23,124.77 L362.08,124.78 L362.92,124.78 L363.77,124.78 L364.63,124.78 L365.49,124.79 L366.35,124.79 L367.22,124.79 L368.08,124.79 L368.95,124.80 L369.83,124.80 L370.70,124.80 L371.58,124.80 L372.45,124.81 L373.33,124.81 L374.21,124.81 L375.09,124.81 L375.97,124.81 L376.84,124.82 L377.72,124.82 L378.60,124.82 L379.47,124.82 L380.34,124.82 L381.21,124.83 L382.08,124.83 L382.95,124.83 L383.81,124.83 L384.67,124.83 L385.53,124.84 L386.38,124.84 L387.23,124.84 L388.07,124.84 L388.91,124.84 L389.75,124.84 L390.58,124.85 L391.40,124.85 L392.22,124.85 L393.03,124.85 L393.83,124.85 L394.63,124.85 L395.42,124.86 L396.20,124.86 L396.98,124.86 L397.75,124.86 L398.51,124.86 L399.25,124.86 L400.00,124.86 L400.73,124.87 L401.45,124.87 L402.16,124.87 L402.86,124.87 L403.55,124.87 L404.23,124.87 L404.90,124.87 L405.56,124.87 L406.20,124.88 L406.84,124.88 L407.46,124.88 L408.06,124.88 L408.66,124.88 L409.24,124.88 L409.81,124.88 L410.36,124.88 L410.90,124.89 L411.42,124.89 L411.93,124.89 L412.43,124.89 L412.91,124.89 L413.37,124.89 L413.82,124.89 L414.25,124.89 L414.66,124.90 L415.06,124.90 L415.44,124.90 L415.80,124.90 L415.8,124.9 L299.5,124.9Z" fill="#dedede" stroke="none"/>
<path d="M299.50,124.90 L299.56,124.90 L299.80,124.90 L300.15,124.20 L301.30,122.15 L301.82,121.28 L302.44,120.38 L303.16,119.21 L303.93,117.99 L304.75,116.83 L305.59,115.69 L306.42,114.36 L307.24,113.09 L308.00,111.72 L308.74,110.58 L309.50,109.19 L310.26,107.79 L311.01,106.40 L311.76,105.11 L312.49,104.08 L313.19,102.95 L313.87,102.01 L314.50,101.29 L315.35,100.36 L316.09,99.94 L316.78,99.88 L317.46,100.05 L318.19,100.54 L319.00,101.31 L319.68,101.94 L320.39,103.24 L321.14,104.63 L321.91,106.10 L322.68,107.61 L323.46,109.33 L324.24,110.80 L325.00,112.53 L325.77,113.98 L326.57,115.45 L327.38,116.99 L328.19,118.76 L328.97,120.17 L329.71,121.61 L330.39,122.75 L331.00,123.60 L330.11,124.58 L327.76,124.78 L327.78,124.64 L334.00,124.60 L334.37,124.61 L334.77,124.61 L335.18,124.62 L335.60,124.62 L336.04,124.63 L336.50,124.63 L336.98,124.64 L337.47,124.64 L337.97,124.65 L338.49,124.65 L339.03,124.66 L339.58,124.66 L340.14,124.67 L340.72,124.67 L341.31,124.68 L341.91,124.68 L342.53,124.68 L343.16,124.69 L343.80,124.69 L344.46,124.70 L345.12,124.70 L345.80,124.70 L346.49,124.71 L347.19,124.71 L347.89,124.72 L348.61,124.72 L349.34,124.72 L350.08,124.73 L350.83,124.73 L351.58,124.73 L352.35,124.74 L353.12,124.74 L353.90,124.75 L354.69,124.75 L355.48,124.75 L356.29,124.75 L357.10,124.76 L357.91,124.76 L358.73,124.76 L359.56,124.77 L360.39,124.77 L361.23,124.77 L362.08,124.78 L362.92,124.78 L363.77,124.78 L364.63,124.78 L365.49,124.79 L366.35,124.79 L367.22,124.79 L368.08,124.79 L368.95,124.80 L369.83,124.80 L370.70,124.80 L371.58,124.80 L372.45,124.81 L373.33,124.81 L374.21,124.81 L375.09,124.81 L375.97,124.81 L376.84,124.82 L377.72,124.82 L378.60,124.82 L379.47,124.82 L380.34,124.82 L381.21,124.83 L382.08,124.83 L382.95,124.83 L383.81,124.83 L384.67,124.83 L385.53,124.84 L386.38,124.84 L387.23,124.84 L388.07,124.84 L388.91,124.84 L389.75,124.84 L390.58,124.85 L391.40,124.85 L392.22,124.85 L393.03,124.85 L393.83,124.85 L394.63,124.85 L395.42,124.86 L396.20,124.86 L396.98,124.86 L397.75,124.86 L398.51,124.86 L399.25,124.86 L400.00,124.86 L400.73,124.87 L401.45,124.87 L402.16,124.87 L402.86,124.87 L403.55,124.87 L404.23,124.87 L404.90,124.87 L405.56,124.87 L406.20,124.88 L406.84,124.88 L407.46,124.88 L408.06,124.88 L408.66,124.88 L409.24,124.88 L409.81,124.88 L410.36,124.88 L410.90,124.89 L411.42,124.89 L411.93,124.89 L412.43,124.89 L412.91,124.89 L413.37,124.89 L413.82,124.89 L414.25,124.89 L414.66,124.90 L415.06,124.90 L415.44,124.90 L415.80,124.90" fill="none" stroke="#707070" stroke-width="0.9"/>
<path d="M299.5,47.3H415.8" stroke="#e03a3a" stroke-width="0.9"/>
<path d="M299.5,73.6H415.8" stroke="#2828d8" stroke-width="0.9"/>
<path d="M299.5,98.9H415.8" stroke="#38b038" stroke-width="0.9"/>
<path d="M298.5,125.5H415.8" stroke="#333" stroke-width="1.1"/>
<path d="M308.27,125.5V126.6M313.40,125.5V126.6M317.03,125.5V126.6M319.86,125.5V126.6M322.16,125.5V126.6M324.11,125.5V126.6M325.80,125.5V126.6M327.29,125.5V126.6M337.39,125.5V126.6M342.52,125.5V126.6M346.16,125.5V126.6M348.98,125.5V126.6M351.29,125.5V126.6M353.24,125.5V126.6M354.93,125.5V126.6M356.42,125.5V126.6M366.52,125.5V126.6M371.65,125.5V126.6M375.28,125.5V126.6M378.11,125.5V126.6M380.41,125.5V126.6M382.36,125.5V126.6M384.05,125.5V126.6M385.54,125.5V126.6M395.64,125.5V126.6M400.77,125.5V126.6M404.41,125.5V126.6M407.23,125.5V126.6M409.54,125.5V126.6M411.49,125.5V126.6M413.18,125.5V126.6M414.67,125.5V126.6" stroke="#555" stroke-width="0.5"/>
<path d="M299.50,125.5V127.5" stroke="#333" stroke-width="0.6"/>
<text class="n" x="299.00" y="135.6" font-size="5.8" text-anchor="middle" fill="#333">10<tspan font-size="4" dy="-2.4">0</tspan></text>
<path d="M328.62,125.5V127.5" stroke="#333" stroke-width="0.6"/>
<text class="n" x="328.12" y="135.6" font-size="5.8" text-anchor="middle" fill="#333">10<tspan font-size="4" dy="-2.4">1</tspan></text>
<path d="M357.75,125.5V127.5" stroke="#333" stroke-width="0.6"/>
<text class="n" x="357.25" y="135.6" font-size="5.8" text-anchor="middle" fill="#333">10<tspan font-size="4" dy="-2.4">2</tspan></text>
<path d="M386.88,125.5V127.5" stroke="#333" stroke-width="0.6"/>
<text class="n" x="386.38" y="135.6" font-size="5.8" text-anchor="middle" fill="#333">10<tspan font-size="4" dy="-2.4">3</tspan></text>
<path d="M416.00,125.5V127.5" stroke="#333" stroke-width="0.6"/>
<text class="n" x="415.50" y="135.6" font-size="5.8" text-anchor="middle" fill="#333">10<tspan font-size="4" dy="-2.4">4</tspan></text>
<text x="418.5" y="42.6" font-size="12.8" text-anchor="start" fill="#111" letter-spacing="0.12">RAPA 100 ng/mL</text>
<text x="423.8" y="71.2" font-size="12.7" text-anchor="start" fill="#111" letter-spacing="0.2">RAPA 10 ng/mL</text>
<text x="423.8" y="99.6" font-size="12.8" text-anchor="start" fill="#111" >No RAPA</text>
<text x="423.8" y="121.5" font-size="12.6" text-anchor="start" fill="#111" >Isotype</text>
<text transform="translate(285.6,91) rotate(-90)" font-size="12.9" fill="#111">Cell count</text>
<path d="M281.5,103.6V151.4H323.3" stroke="#000" stroke-width="2.9" fill="none"/>
<text x="348.3" y="157.5" font-size="13.6" fill="#111" letter-spacing="0.6">Foxp3</text>
<text x="269.9" y="184" font-size="17" font-weight="bold" text-anchor="start" fill="#000" >D</text>
<path d="M330.2,189.5V348.2M329.5,347.4H500" stroke="#000" stroke-width="1.6" fill="none"/>
<path d="M326.8,347.40H330" stroke="#000" stroke-width="1.2"/>
<text x="326.8" y="351.0" font-size="10.2" font-weight="bold" text-anchor="end" fill="#000" >0</text>
<path d="M326.8,295.20H330" stroke="#000" stroke-width="1.2"/>
<text x="326.8" y="298.8" font-size="10.2" font-weight="bold" text-anchor="end" fill="#000" >20000</text>
<path d="M326.8,243.00H330" stroke="#000" stroke-width="1.2"/>
<text x="326.8" y="246.6" font-size="10.2" font-weight="bold" text-anchor="end" fill="#000" >40000</text>
<path d="M326.8,190.80H330" stroke="#000" stroke-width="1.2"/>
<text x="326.8" y="194.4" font-size="10.2" font-weight="bold" text-anchor="end" fill="#000" >60000</text>
<text transform="translate(286.2,283.5) rotate(-90)" font-size="15" font-weight="bold">cpm</text>
<rect x="331" y="216.90" width="9.6" height="130.50" fill="#333" stroke="#111" stroke-width="0.8"/>
<path d="M335.8,216.90V205.4M333.3,205.4H338.8" stroke="#000" stroke-width="1.1"/>
<rect x="351.30" y="267.53" width="9.6" height="79.87" fill="url(#chkg)" stroke="#111" stroke-width="0.9"/>
<path d="M356.10,267.53V253.8M353.50,253.8H358.70" stroke="#000" stroke-width="1.1"/>
<rect x="360.90" y="309.56" width="9.8" height="37.84" fill="#000"/>
<rect x="362.40" y="311.16" width="6.80" height="3.40" fill="#fff"/>
<rect x="362.40" y="316.86" width="6.80" height="3.40" fill="#fff"/>
<rect x="362.40" y="322.56" width="6.80" height="3.40" fill="#fff"/>
<rect x="362.40" y="328.25" width="6.80" height="3.40" fill="#fff"/>
<rect x="362.40" y="333.95" width="6.80" height="3.40" fill="#fff"/>
<rect x="362.40" y="339.65" width="6.80" height="3.40" fill="#fff"/>
<rect x="362.40" y="345.35" width="6.80" height="1.75" fill="#fff"/>
<path d="M365.80,309.56V301.7M363.20,301.7H368.40" stroke="#000" stroke-width="1.1"/>
<rect x="370.70" y="306.94" width="9.8" height="40.45" fill="url(#diag)" stroke="#111" stroke-width="0.9"/>
<path d="M375.60,306.94V302.7M373.00,302.7H378.20" stroke="#000" stroke-width="1.1"/>
<rect x="390.40" y="294.42" width="9.6" height="52.98" fill="url(#chkg)" stroke="#111" stroke-width="0.9"/>
<path d="M395.20,294.42V290.8M392.60,290.8H397.80" stroke="#000" stroke-width="1.1"/>
<rect x="400.00" y="320.00" width="9.8" height="27.40" fill="#000"/>
<rect x="401.50" y="321.60" width="6.80" height="3.40" fill="#fff"/>
<rect x="401.50" y="327.30" width="6.80" height="3.40" fill="#fff"/>
<rect x="401.50" y="333.00" width="6.80" height="3.40" fill="#fff"/>
<rect x="401.50" y="338.69" width="6.80" height="3.40" fill="#fff"/>
<rect x="401.50" y="344.39" width="6.80" height="2.70" fill="#fff"/>
<path d="M404.90,320.00V316M402.30,316H407.50" stroke="#000" stroke-width="1.1"/>
<rect x="409.80" y="325.21" width="9.8" height="22.19" fill="url(#diag)" stroke="#111" stroke-width="0.9"/>
<path d="M414.70,325.21V321.6M412.10,321.6H417.30" stroke="#000" stroke-width="1.1"/>
<rect x="430.00" y="308.25" width="9.6" height="39.15" fill="url(#chkg)" stroke="#111" stroke-width="0.9"/>
<path d="M434.80,308.25V304.2M432.20,304.2H437.40" stroke="#000" stroke-width="1.1"/>
<rect x="439.60" y="332.00" width="9.8" height="15.40" fill="#000"/>
<rect x="441.10" y="333.60" width="6.80" height="3.40" fill="#fff"/>
<rect x="441.10" y="339.30" width="6.80" height="3.40" fill="#fff"/>
<rect x="441.10" y="345.00" width="6.80" height="2.10" fill="#fff"/>
<path d="M444.50,332.00V329M441.90,329H447.10" stroke="#000" stroke-width="1.1"/>
<rect x="449.40" y="328.35" width="9.8" height="19.05" fill="url(#diag)" stroke="#111" stroke-width="0.9"/>
<path d="M454.30,328.35V323M451.70,323H456.90" stroke="#000" stroke-width="1.1"/>
<rect x="469.30" y="336.44" width="9.6" height="10.96" fill="url(#chkg)" stroke="#111" stroke-width="0.9"/>
<path d="M474.10,336.44V330.9M471.50,330.9H476.70" stroke="#000" stroke-width="1.1"/>
<rect x="478.90" y="344.40" width="9.8" height="3.00" fill="#000"/>
<rect x="480.40" y="346.00" width="6.80" height="1.10" fill="#fff"/>
<rect x="488.70" y="344.40" width="9.8" height="3.00" fill="url(#diag)" stroke="#111" stroke-width="0.9"/>
<path d="M356.2,249V244.6H365.3V297.5M356.2,231.7V226.5H374.8V294" stroke="#000" stroke-width="1.35" fill="none"/>
<path d="M363.30,238.60L363.30,234.20M363.30,238.60L367.48,237.24M363.30,238.60L365.89,242.16M363.30,238.60L360.71,242.16M363.30,238.60L359.12,237.24" stroke="#000" stroke-width="1.8" stroke-linecap="butt" fill="none"/>
<path d="M365.60,219.40L365.60,215.00M365.60,219.40L369.78,218.04M365.60,219.40L368.19,222.96M365.60,219.40L363.01,222.96M365.60,219.40L361.42,218.04" stroke="#000" stroke-width="1.8" stroke-linecap="butt" fill="none"/>
<path d="M395.8,287.8V282.8H406.7V315.7M395.8,277.8V269.5H415.7V320.6" stroke="#000" stroke-width="1.35" fill="none"/>
<path d="M402.70,277.40L402.70,273.00M402.70,277.40L406.88,276.04M402.70,277.40L405.29,280.96M402.70,277.40L400.11,280.96M402.70,277.40L398.52,276.04" stroke="#000" stroke-width="1.8" stroke-linecap="butt" fill="none"/>
<path d="M406.70,264.70L406.70,260.30M406.70,264.70L410.88,263.34M406.70,264.70L409.29,268.26M406.70,264.70L404.11,268.26M406.70,264.70L402.52,263.34" stroke="#000" stroke-width="1.8" stroke-linecap="butt" fill="none"/>
<path d="M435,303.9V297.8H445V326.7M435,289.2V279.2H454.7V322.1" stroke="#000" stroke-width="1.35" fill="none"/>
<path d="M442.30,291.20L442.30,286.80M442.30,291.20L446.48,289.84M442.30,291.20L444.89,294.76M442.30,291.20L439.71,294.76M442.30,291.20L438.12,289.84" stroke="#000" stroke-width="1.8" stroke-linecap="butt" fill="none"/>
<path d="M445.60,272.00L445.60,267.60M445.60,272.00L449.78,270.64M445.60,272.00L448.19,275.56M445.60,272.00L443.01,275.56M445.60,272.00L441.42,270.64" stroke="#000" stroke-width="1.8" stroke-linecap="butt" fill="none"/>
<path d="M474.2,326.7V319.4H484.3V338.5M474.2,310.2V303H493.4V337.6" stroke="#000" stroke-width="1.35" fill="none"/>
<path d="M483.00,313.10L483.00,308.70M483.00,313.10L487.18,311.74M483.00,313.10L485.59,316.66M483.00,313.10L480.41,316.66M483.00,313.10L478.82,311.74" stroke="#000" stroke-width="1.8" stroke-linecap="butt" fill="none"/>
<path d="M485.20,296.20L485.20,291.80M485.20,296.20L489.38,294.84M485.20,296.20L487.79,299.76M485.20,296.20L482.61,299.76M485.20,296.20L481.02,294.84" stroke="#000" stroke-width="1.8" stroke-linecap="butt" fill="none"/>
<path d="M351.8,355.5H380.4" stroke="#000" stroke-width="1.4"/>
<text transform="translate(367.8,372.2) scale(1,1.16)" font-size="11.3" font-weight="bold" text-anchor="middle" fill="#111">10:1</text>
<path d="M391.8,355.5H421.3" stroke="#000" stroke-width="1.4"/>
<text transform="translate(410.4,372.2) scale(1,1.16)" font-size="11.3" font-weight="bold" text-anchor="middle" fill="#111">5:1</text>
<path d="M431.8,355.5H460.4" stroke="#000" stroke-width="1.4"/>
<text transform="translate(448.8,372.2) scale(1,1.16)" font-size="11.3" font-weight="bold" text-anchor="middle" fill="#111">2:1</text>
<path d="M471.2,355.5H500.4" stroke="#000" stroke-width="1.4"/>
<text transform="translate(488.4,372.2) scale(1,1.16)" font-size="11.3" font-weight="bold" text-anchor="middle" fill="#111">1:1</text>
<text x="385.4" y="392.5" font-size="13.8" font-weight="bold" text-anchor="start" fill="#000" >Tconv:Treg</text>
<text x="402.9" y="188.3" font-size="11.8" font-weight="bold" text-anchor="start" fill="#000" >Treg exposure</text>
<rect x="385.4" y="201.5" width="15.6" height="8.1" fill="#333" stroke="#111" stroke-width="0.8"/>
<text x="402.9" y="209.2" font-size="11.3" text-anchor="start" fill="#888" class="g">no Treg</text>
<rect x="450.5" y="201.5" width="15.1" height="8.1" fill="url(#chkg)" stroke="#111" stroke-width="0.9"/>
<text x="467.5" y="209.2" font-size="12.3" font-weight="bold" text-anchor="start" fill="#000" >no Rapa</text>
<rect x="385.4" y="216.3" width="15.6" height="8.9" fill="#fff" stroke="#000" stroke-width="1.5"/><rect x="385.4" y="219.7" width="15.6" height="2.1" fill="#000"/>
<text x="402.9" y="224" font-size="12.4" font-weight="bold" text-anchor="start" fill="#000" >Rapa 10 ng/mL</text>
<rect x="385.4" y="231.4" width="15.6" height="9.1" fill="url(#diag)" stroke="#111" stroke-width="0.9"/>
<text x="402.9" y="239.4" font-size="12.4" font-weight="bold" text-anchor="start" fill="#000" >Rapa 100 ng/mL</text>
</svg></body></html>
